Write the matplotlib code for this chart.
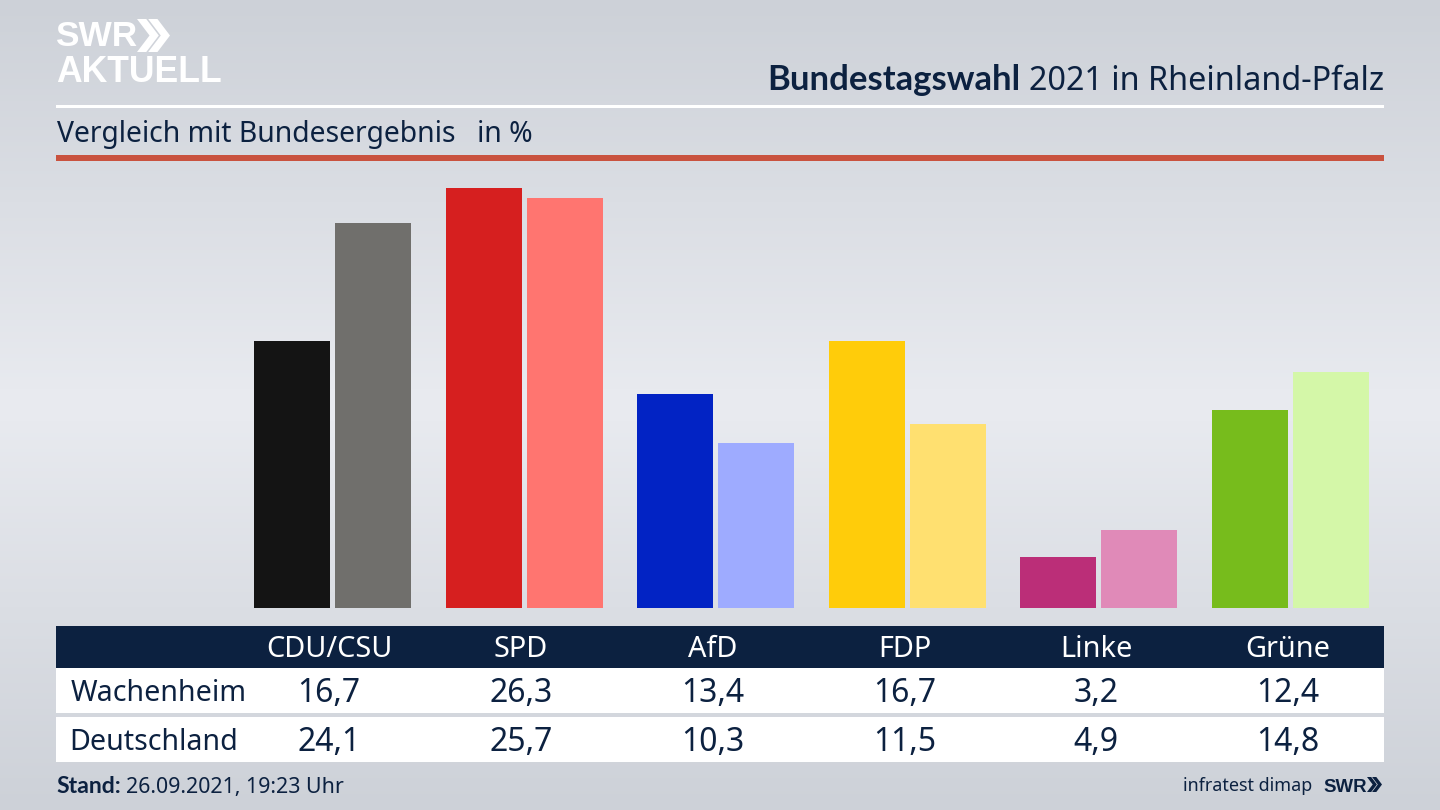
import numpy as np
import matplotlib
matplotlib.use('Agg')
import matplotlib.pyplot as plt
from matplotlib.colors import LinearSegmentedColormap
from matplotlib.patches import Rectangle, Polygon

plt.rcParams['font.family'] = ['Noto Sans', 'DejaVu Sans']

# Daten
parteien = ['CDU/CSU', 'SPD', 'AfD', 'FDP', 'Linke', 'Grüne']
wachenheim = [16.7, 26.3, 13.4, 16.7, 3.2, 12.4]
deutschland = [24.1, 25.7, 10.3, 11.5, 4.9, 14.8]
farben_wachenheim = ['#141414', '#d61f1f', '#0223c4', '#ffcc0a', '#bb2e78', '#77bc1c']
farben_deutschland = ['#706f6c', '#ff7570', '#9eabff', '#ffe070', '#e08ab8', '#d4f7a8']
zeilen = ['Wachenheim', 'Deutschland']

NAVY = '#0c2140'
LOGO = ['Liberation Sans', 'DejaVu Sans']
FETT = ['Lato', 'DejaVu Sans']

W, H = 1440, 810
fig = plt.figure(figsize=(14.4, 8.1), dpi=100)

# Hintergrund und alles was in Pixeln liegt
bg = fig.add_axes([0, 0, 1, 1])
bg.set_xlim(0, W)
bg.set_ylim(H, 0)
bg.axis('off')
cmap = LinearSegmentedColormap.from_list('bg', ['#cdd1d8', '#e9ebf0', '#cdd1d8'])
bg.imshow(np.linspace(0, 1, 256).reshape(-1, 1), cmap=cmap, aspect='auto', extent=[0, W, H, 0], zorder=0)

def rect(x0, y0, x1, y1, c):
    bg.add_patch(Rectangle((x0, y0), x1 - x0, y1 - y0, color=c, lw=0, zorder=1))

def chevrons(x, y, h, c):
    w = h * 0.38
    t = h * 0.28
    for i in range(2):
        xo = x + i * h * 0.34
        bg.add_patch(Polygon([(xo, y), (xo + t, y), (xo + t + w, y + h / 2), (xo + t, y + h),
                              (xo, y + h), (xo + w, y + h / 2)], color=c, lw=0, zorder=2))

# Kopf
rect(56, 104.5, 1384, 107.5, 'white')
rect(56, 155, 1384, 160.5, '#c9523f')

bg.text(55, 37, 'SWR', color='white', fontsize=25.4, fontweight='bold', va='center', ha='left', family=LOGO)
chevrons(137, 19, 33, 'white')
bg.text(56, 73, 'AKTUELL', color='white', fontsize=25.6, fontweight='bold', va='center', ha='left', family=LOGO)

bg.text(1384, 90, '2021 in Rheinland-Pfalz', color=NAVY, fontsize=23.3, va='baseline', ha='right')
bg.text(1020, 90, 'Bundestagswahl', color=NAVY, fontsize=24.9, fontweight='bold', va='baseline', ha='right', family=FETT)

bg.text(57, 142, 'Vergleich mit Bundesergebnis', color=NAVY, fontsize=20.4, va='baseline', ha='left')
bg.text(477, 142, 'in %', color=NAVY, fontsize=20.4, va='baseline', ha='left')

# Balken
ax = fig.add_axes([236.7 / W, 1 - 608 / H, (1386.3 - 236.7) / W, (608 - 160) / H])
ax.patch.set_alpha(0)
ax.axis('off')
x = np.arange(len(parteien))
ax.bar(x - 0.2114, wachenheim, width=0.397, color=farben_wachenheim)
ax.bar(x + 0.2114, deutschland, width=0.397, color=farben_deutschland)
ax.set_xlim(-0.5, 5.5)
ax.set_ylim(0, 28.05)

# Tabelle
rect(56, 626, 1384, 668, NAVY)
rect(56, 668, 1384, 713, 'white')
rect(56, 717, 1384, 762, 'white')

spalten = [329, 521, 713, 905, 1096, 1288]
for cx, name, a, b in zip(spalten, parteien, wachenheim, deutschland):
    bg.text(cx, 657, name, color='white', fontsize=20.8, va='baseline', ha='center')
    bg.text(cx, 702, f'{a:.1f}'.replace('.', ','), color=NAVY, fontsize=23, va='baseline', ha='center')
    bg.text(cx, 751, f'{b:.1f}'.replace('.', ','), color=NAVY, fontsize=23, va='baseline', ha='center')
bg.text(71, 701, zeilen[0], color=NAVY, fontsize=20.6, va='baseline', ha='left')
bg.text(69.5, 750, zeilen[1], color=NAVY, fontsize=20.6, va='baseline', ha='left')

# Fuss
bg.text(56, 793, 'Stand:', color=NAVY, fontsize=16.6, fontweight='bold', va='baseline', ha='left', family=FETT)
bg.text(126, 793, '26.09.2021, 19:23 Uhr', color=NAVY, fontsize=15.4, va='baseline', ha='left')
bg.text(1312, 791, 'infratest dimap', color=NAVY, fontsize=12.9, va='baseline', ha='right')
bg.text(1323, 792, 'SWR', color=NAVY, fontsize=13.4, fontweight='bold', va='baseline', ha='left', family=LOGO)
chevrons(1367, 777, 15, NAVY)

fig.savefig('out.png', dpi=100)
